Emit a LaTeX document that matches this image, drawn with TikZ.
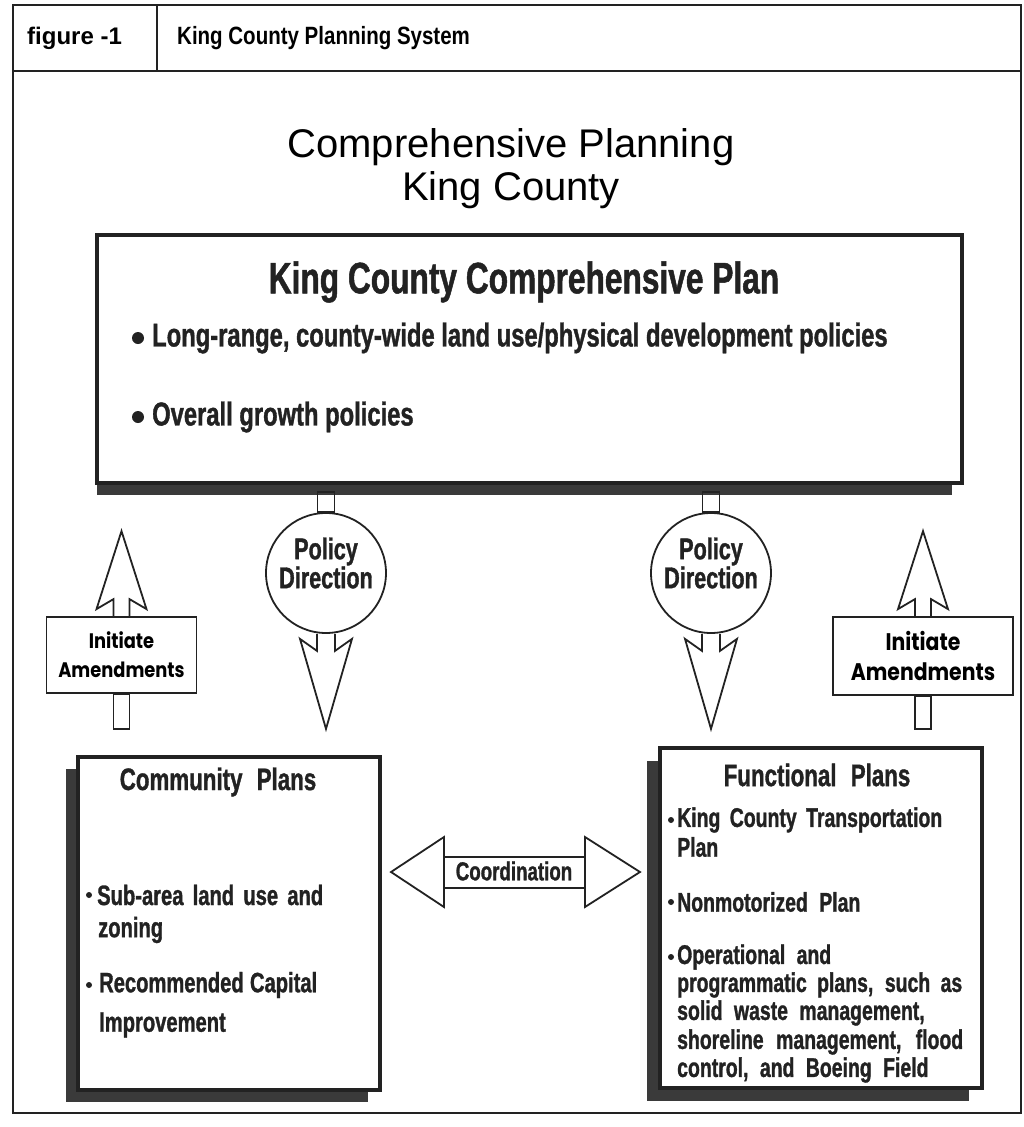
\documentclass[tikz,border=0pt]{standalone}
\usepackage{fontspec}
\setmainfont{Liberation Sans}
\newfontfamily\cnd[FakeStretch=0.72,FakeBold=1.1]{Liberation Sans}
\newfontfamily\hnar[FakeStretch=0.82]{Liberation Sans}
\newfontfamily\geo[FakeStretch=0.85]{Poppins}
\definecolor{ink}{HTML}{222222}
\definecolor{shd}{HTML}{3A3A3A}
\tikzset{
  frame/.style={draw=ink, line width=1.5pt},
  bx/.style={draw=ink, line width=3.2pt, fill=white, inner sep=0pt},
  shadowbox/.style={fill=shd},
  ibox/.style={draw=ink, line width=1.8pt, fill=white, inner sep=0pt, align=center,
    font=\geo\bfseries\fontsize{21}{29}\selectfont},
  pcircle/.style={circle, draw=ink, line width=1.8pt, fill=white, inner sep=0pt,
    minimum size=120pt},
  ptext/.style={inner sep=0pt, align=center, text=ink, font=\cnd\bfseries\fontsize{30}{27}\selectfont},
  ashape/.style={draw=ink, line width=1.8pt, line join=miter},
  stemrect/.style={draw=ink, line width=1.6pt},
  hdr/.style={inner sep=0pt, anchor=west, font=\bfseries\fontsize{24}{26}\selectfont},
  ttl/.style={inner sep=0pt, font=\fontsize{40}{44}\selectfont},
  ctxt/.style={inner sep=0pt, anchor=west, text=ink},
  uarrow/.pic={\draw[ashape] (-8,0) -- (-8,-17) -- (-25,-7) -- (0,-85) -- (25,-7) -- (8,-17) -- (8,0);},
  darrow/.pic={\draw[ashape] (-9,0) -- (-9,17) -- (-26,5) -- (0,95) -- (26,5) -- (9,17) -- (9,0);}
}
\begin{document}
\begin{tikzpicture}[x=1pt,y=-1pt]
\useasboundingbox (0,0) rectangle (1023,1127);
% outer frame
\draw[frame] (13,5) rectangle (1021,1113);
\draw[frame] (13,71) -- (1021,71);
\draw[frame] (157,5) -- (157,71);
\node[hdr] (fig) at (27,38) {figure -1};
\node[hdr, font=\hnar\bfseries\fontsize{25}{26}\selectfont] (sys) at (177,38) {King County Planning System};
% title
\node[ttl] (t1) at (511,147) {Comprehensive Planning};
\node[ttl] (t2) at (511,190) {King County};
% main box
\fill[shadowbox] (97,247) rectangle (952,495);
\node[bx, minimum width=865pt, minimum height=248pt] (main) at (529.5,359) {};
\draw[ink, line width=1.2pt] (97,235) -- (97,483);
\node[inner sep=0pt, font=\cnd\bfseries\fontsize{44}{48}\selectfont, text=ink] (mtitle) at (524,282) {King County Comprehensive Plan};
\fill[ink] (138,338) circle (6);
\node[ctxt, font=\cnd\bfseries\fontsize{33}{36}\selectfont] (mb1) at (152,338) {Long-range, county-wide land use/physical development policies};
\fill[ink] (138,417) circle (6);
\node[ctxt, font=\cnd\bfseries\fontsize{33}{36}\selectfont] (mb2) at (152,417) {Overall growth policies};
% policy direction circles
\node[pcircle] (pd1) at (326,573) {};
\node[pcircle] (pd2) at (711,573) {};
\node[ptext] (pd1t) at (326,563) {Policy\\Direction};
\node[ptext] (pd2t) at (711,563) {Policy\\Direction};
\draw[stemrect] ([xshift=-8.5pt]pd1.north) rectangle ++(17,-20);
\draw[stemrect] ([xshift=-8.5pt]pd2.north) rectangle ++(17,-20);
\pic at (pd1.south) {darrow};
\pic at (pd2.south) {darrow};
% initiate amendments
\node[ibox, minimum width=150pt, minimum height=76pt] (ia1) at (121.5,655) {Initiate\\Amendments};
\node[ibox, minimum width=180pt, minimum height=78pt, font=\geo\bfseries\fontsize{24}{30}\selectfont] (ia2) at (923,656) {Initiate\\Amendments};
\pic at (ia1.north) {uarrow};
\pic at (ia2.north) {uarrow};
\draw[stemrect] ([xshift=-8pt]ia1.south) rectangle ++(16,35);
\draw[stemrect] ([xshift=-8pt]ia2.south) rectangle ++(16,33);
% community plans
\fill[shadowbox] (66,769) rectangle (368,1102);
\node[bx, minimum width=302pt, minimum height=333pt] (cp) at (229,923.5) {};
\node[inner sep=0pt, text=ink, font=\cnd\bfseries\fontsize{31}{34}\selectfont] (cpt) at (218,782) {Community\hspace{8pt} Plans};
\fill[ink] (89,895) circle (3);
\node[ctxt, font=\cnd\bfseries\fontsize{28}{30}\selectfont] (cp1) at (97,895) {\makebox[226pt][s]{Sub-area land use and}};
\node[ctxt, font=\cnd\bfseries\fontsize{28}{30}\selectfont] (cp2) at (98,930) {zoning};
\fill[ink] (89,985) circle (3);
\node[ctxt, font=\cnd\bfseries\fontsize{28}{30}\selectfont] (cp3) at (99,985) {\makebox[218pt][s]{Recommended Capital}};
\node[ctxt, font=\cnd\bfseries\fontsize{28}{30}\selectfont] (cp4) at (99,1025) {Improvement};
% functional plans
\fill[shadowbox] (647,761) rectangle (969,1101);
\node[bx, minimum width=322pt, minimum height=340pt] (fp) at (821,918) {};
\node[inner sep=0pt, text=ink, font=\cnd\bfseries\fontsize{31}{34}\selectfont] (fpt) at (817,775) {Functional\hspace{8pt} Plans};
\fill[ink] (671,820) circle (3);
\node[ctxt, font=\cnd\bfseries\fontsize{27}{28}\selectfont] (fp1) at (677,820) {\makebox[265pt][s]{King County Transportation}};
\node[ctxt, font=\cnd\bfseries\fontsize{27}{28}\selectfont] (fp2) at (677,847) {Plan};
\fill[ink] (671,902) circle (3);
\node[ctxt, font=\cnd\bfseries\fontsize{27}{28}\selectfont] (fp3) at (677,902) {Nonmotorized\hspace{6pt} Plan};
\fill[ink] (671,957) circle (3);
\node[ctxt, font=\cnd\bfseries\fontsize{27}{28}\selectfont] (fp4) at (677,957) {Operational\hspace{6pt} and};
\node[ctxt, font=\cnd\bfseries\fontsize{27}{28}\selectfont] (fp5) at (677,985) {\makebox[285pt][s]{programmatic plans, such as}};
\node[ctxt, font=\cnd\bfseries\fontsize{27}{28}\selectfont] (fp6) at (677,1013) {solid\hspace{6pt} waste\hspace{6pt} management,};
\node[ctxt, font=\cnd\bfseries\fontsize{27}{28}\selectfont] (fp7) at (677,1042) {\makebox[286pt][s]{shoreline management, flood}};
\node[ctxt, font=\cnd\bfseries\fontsize{27}{28}\selectfont] (fp8) at (677,1070) {control,\hspace{6pt} and\hspace{6pt} Boeing\hspace{6pt} Field};
% coordination double arrow
\draw[ashape, fill=white] (391,872) -- (444,837) -- (444,857) -- (585,857) -- (585,837) -- (640,872)
  -- (585,907) -- (585,888) -- (444,888) -- (444,907) -- cycle;
\draw[ink, line width=1.8pt] (444,857) -- (444,888) (585,857) -- (585,888);
\node[inner sep=0pt, text=ink, font=\cnd\bfseries\fontsize{26}{28}\selectfont] (coord) at (514,871) {Coordination};
\end{tikzpicture}
\end{document}
